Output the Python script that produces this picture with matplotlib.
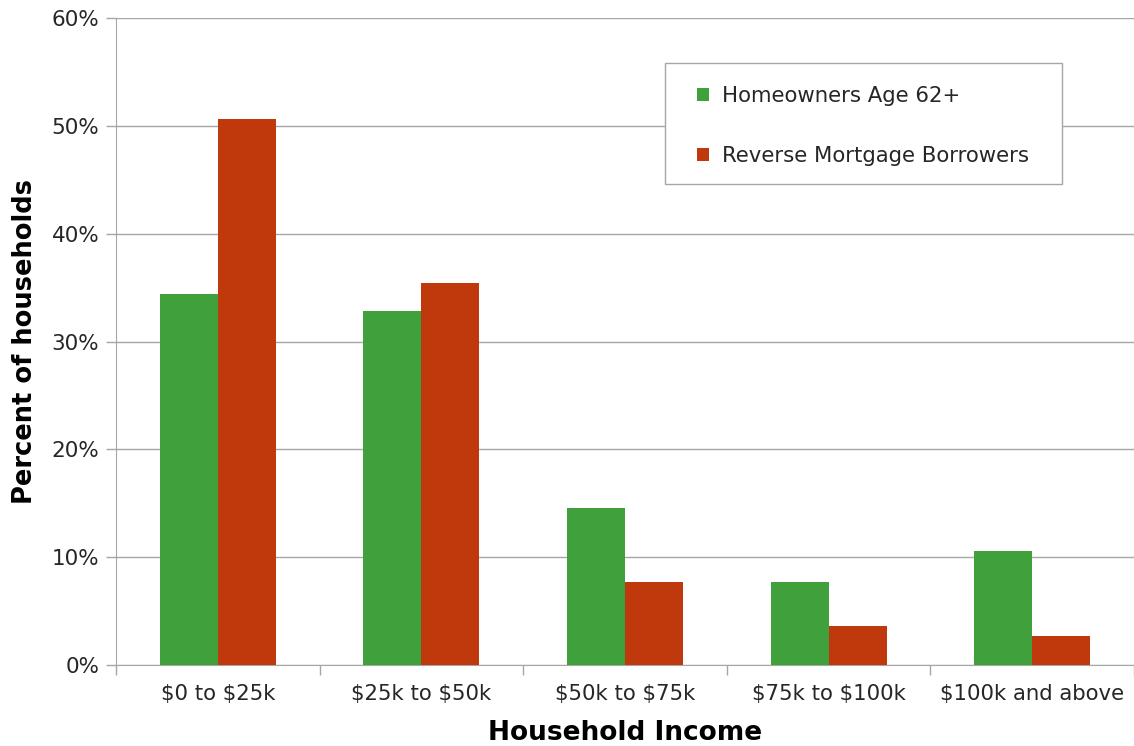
import matplotlib
matplotlib.use("Agg")
import matplotlib.pyplot as plt
import numpy as np
from matplotlib.ticker import FuncFormatter
from matplotlib.patches import Rectangle

plt.rcParams['text.parse_math'] = False
plt.rcParams['font.family'] = ['DejaVu Sans']

categories = ["$0 to $25k", "$25k to $50k", "$50k to $75k", "$75k to $100k", "$100k and above"]
homeowners = [34.4, 32.8, 14.6, 7.7, 10.6]
borrowers = [50.6, 35.4, 7.7, 3.6, 2.7]
series_names = ["Homeowners Age 62+", "Reverse Mortgage Borrowers"]

green = "#40A03C"
red = "#C0390D"
grid_c = "#A6A6A6"
txt_c = "#262626"

W, H = 1134, 746
fig = plt.figure(figsize=(W/100, H/100), dpi=100)
ax = fig.add_axes([116/W, 1-665/H, 1018/W, (665-18)/H])

x = np.arange(len(categories))
w = 0.285
ax.bar(x - w/2, homeowners, w, color=green, label=series_names[0], zorder=3)
ax.bar(x + w/2, borrowers, w, color=red, label=series_names[1], zorder=3)

ax.set_xlim(-0.5, len(categories) - 0.5)
ax.set_ylim(0, 60)
ax.set_yticks(range(0, 61, 10))
ax.yaxis.set_major_formatter(FuncFormatter(lambda v, p: f"{int(v)}%"))
ax.grid(axis="y", color=grid_c, linewidth=1, zorder=0)
ax.set_axisbelow(True)

ax.set_xticks(x)
ax.set_xticklabels(categories)
ax.set_xticks(np.arange(-0.5, len(categories) + 0.5, 1), minor=True)
ax.tick_params(axis="x", which="major", length=0, pad=14, labelsize=15.3, colors=txt_c)
ax.tick_params(axis="x", which="minor", length=7, color=grid_c, width=1)
ax.tick_params(axis="y", length=7, color=grid_c, width=1, labelsize=15.5, labelcolor=txt_c, pad=5)

for s in ["top", "right"]:
    ax.spines[s].set_visible(False)
ax.spines["left"].set_color(grid_c)
ax.spines["bottom"].set_color(grid_c)

ax.set_xlabel("Household Income", fontsize=19, fontweight="bold", labelpad=11)
ax.set_ylabel("Percent of households", fontsize=18.5, fontweight="bold", labelpad=10)

# legend frame
frame = Rectangle((665/W, 1-184/H), (1062-665)/W, (184-63)/H,
                  transform=fig.transFigure, facecolor="white",
                  edgecolor=grid_c, linewidth=1, zorder=5, clip_on=False)
ax.add_patch(frame)
leg = ax.legend(loc="upper left", bbox_to_anchor=(697/W, 1-86/H), bbox_transform=fig.transFigure,
                frameon=False, fontsize=15.3, handlelength=0.57, handleheight=0.57,
                labelspacing=1.9, borderpad=0, handletextpad=0.6, borderaxespad=0,
                labelcolor=txt_c)
leg.set_zorder(6)

fig.savefig("out.png", dpi=100)
